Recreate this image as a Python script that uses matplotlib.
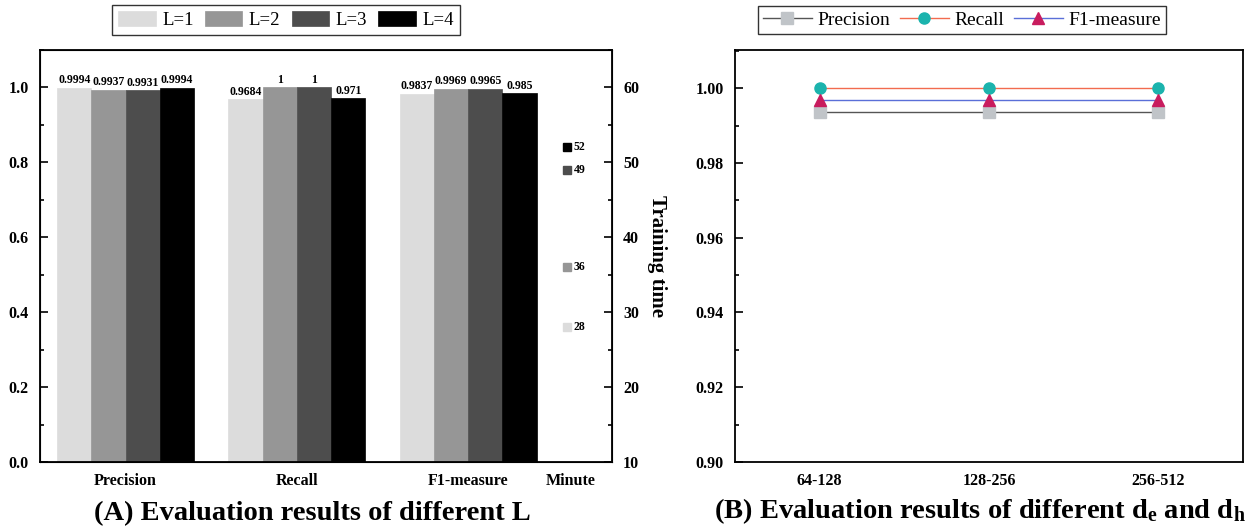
import numpy as np
import matplotlib
matplotlib.use('Agg')
import matplotlib.pyplot as plt
from matplotlib.ticker import MultipleLocator

plt.rcParams['font.family'] = ['Liberation Serif', 'DejaVu Serif']
plt.rcParams['mathtext.fontset'] = 'custom'
plt.rcParams['mathtext.rm'] = 'Liberation Serif:bold'
plt.rcParams['mathtext.bf'] = 'Liberation Serif:bold'
plt.rcParams['mathtext.it'] = 'Liberation Serif:bold'

# panel A data
metrics = ['Precision', 'Recall', 'F1-measure']
layers = ['L=1', 'L=2', 'L=3', 'L=4']
scores = [
    [0.9994, 0.9684, 0.9837],   # L=1
    [0.9937, 1.0, 0.9969],      # L=2
    [0.9931, 1.0, 0.9965],      # L=3
    [0.9994, 0.971, 0.985],     # L=4
]
score_labels = [
    ['0.9994', '0.9684', '0.9837'],
    ['0.9937', '1', '0.9969'],
    ['0.9931', '1', '0.9965'],
    ['0.9994', '0.971', '0.985'],
]
train_minutes = [28, 36, 49, 52]
bar_colors = ['#dcdcdc', '#969696', '#4d4d4d', '#000000']

# panel B data
dims = ['64-128', '128-256', '256-512']
prec_b = [0.9937, 0.9937, 0.9937]
rec_b = [1.0, 1.0, 1.0]
f1_b = [0.9969, 0.9969, 0.9969]

W, H = 1256, 530
fig = plt.figure(figsize=(W / 100, H / 100), dpi=100)

TICK_FS = 11.5

def style_yaxis(a):
    a.tick_params(axis='y', which='major', direction='in', length=6, width=1.2, pad=8)
    a.tick_params(axis='y', which='minor', direction='in', length=3, width=1.2)
    for t in a.get_yticklabels():
        t.set_fontweight('bold')
        t.set_fontsize(TICK_FS)

# ---------------- panel A ----------------
ax = fig.add_axes([40 / W, (H - 462) / H, 572 / W, 412 / H])
group_x = np.array([2.5, 7.5, 12.5])
offsets = [-1.5, -0.5, 0.5, 1.5]
for i in range(4):
    xs = group_x + offsets[i]
    ax.bar(xs, scores[i], width=1.0, color=bar_colors[i], edgecolor=bar_colors[i],
           linewidth=0.5, label=layers[i])
    for x, v, s in zip(xs, scores[i], score_labels[i]):
        ax.text(x, v + 0.004, s, ha='center', va='bottom', fontsize=8.5, fontweight='bold')

ax.set_xlim(0, 16.7)
ax.set_ylim(0, 1.1)
ax.set_xticks(list(group_x) + [15.5])
ax.set_xticklabels(metrics + ['Minute'], fontsize=TICK_FS, fontweight='bold')
ax.tick_params(axis='x', length=0, pad=8)
ax.yaxis.set_major_locator(MultipleLocator(0.2))
ax.yaxis.set_minor_locator(MultipleLocator(0.1))
ax.yaxis.set_major_formatter(plt.FormatStrFormatter('%.1f'))
style_yaxis(ax)
for s in ax.spines.values():
    s.set_linewidth(1.3)

ax2 = ax.twinx()
ax2.set_ylim(10, 65)
for i in range(4):
    ax2.plot([15.4], [train_minutes[i]], marker='s', markersize=6, color=bar_colors[i],
             linestyle='none')
    ax2.text(15.58, train_minutes[i], str(train_minutes[i]), ha='left', va='center',
             fontsize=8.5, fontweight='bold')
ax2.yaxis.set_major_locator(MultipleLocator(10))
ax2.yaxis.set_minor_locator(MultipleLocator(5))
style_yaxis(ax2)
ax2.set_ylabel('Training time', fontsize=15, fontweight='bold', rotation=270, labelpad=20)

leg = ax.legend(loc='center', bbox_to_anchor=((286 - 40) / 572, 1 + (50 - 20) / 412), ncol=4,
                fontsize=13.5, frameon=True, fancybox=False, edgecolor='black',
                handlelength=2.0, handleheight=0.9, columnspacing=0.6, handletextpad=0.35,
                borderpad=0.3, borderaxespad=0)
leg.get_frame().set_linewidth(1.0)

fig.text(312 / W, 1 - 514 / H, '(A) Evaluation results of different L', ha='center',
         va='center', fontsize=20.5, fontweight='bold')

# ---------------- panel B ----------------
bx = fig.add_axes([735 / W, (H - 462) / H, 508 / W, 412 / H])
xb = np.arange(len(dims))
bx.plot(xb, prec_b, color='#555555', linewidth=1.0, marker='s', markersize=8,
        markerfacecolor='#c0c4c8', markeredgecolor='#c0c4c8', label='Precision')
bx.plot(xb, rec_b, color='#f26b4f', linewidth=1.0, marker='o', markersize=8,
        markerfacecolor='#1bb3ad', markeredgecolor='#1bb3ad', label='Recall')
bx.plot(xb, f1_b, color='#5a6fd8', linewidth=1.0, marker='^', markersize=8,
        markerfacecolor='#c81c5e', markeredgecolor='#c81c5e', label='F1-measure')
bx.set_xlim(-0.5, 2.5)
bx.set_ylim(0.90, 1.0102)
bx.set_xticks(xb)
bx.set_xticklabels(dims, fontsize=TICK_FS, fontweight='bold')
bx.tick_params(axis='x', length=0, pad=8)
bx.yaxis.set_major_locator(MultipleLocator(0.02))
bx.yaxis.set_minor_locator(MultipleLocator(0.01))
bx.yaxis.set_major_formatter(plt.FormatStrFormatter('%.2f'))
style_yaxis(bx)
for s in bx.spines.values():
    s.set_linewidth(1.3)

legb = bx.legend(loc='center', bbox_to_anchor=((962 - 735) / 508, 1 + (50 - 20) / 412), ncol=3,
                 fontsize=14, frameon=True, fancybox=False, edgecolor='black',
                 handlelength=2.5, columnspacing=0.5, handletextpad=0.3,
                 borderpad=0.25, borderaxespad=0)
legb.get_frame().set_linewidth(1.0)

fig.text(980 / W, 1 - 511 / H,
         r'(B) Evaluation results of different d$_\mathrm{e}$ and d$_\mathrm{h}$',
         ha='center', va='center', fontsize=20.5, fontweight='bold')

fig.savefig('out.png', dpi=100)
